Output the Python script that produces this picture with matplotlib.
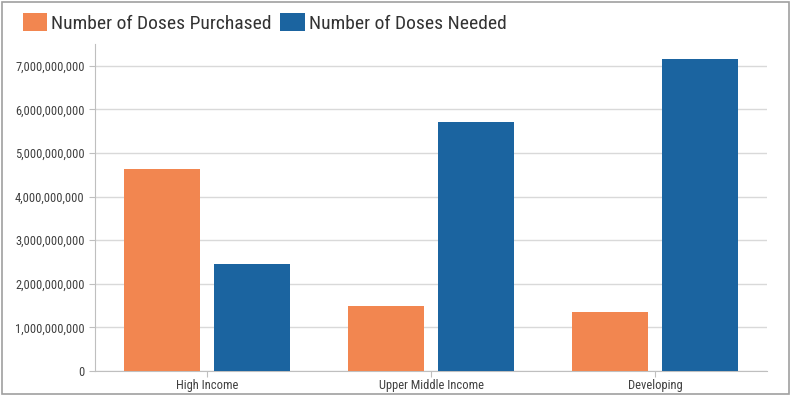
import matplotlib.pyplot as plt
import matplotlib.ticker as mticker
from matplotlib.patches import Rectangle
import numpy as np
from matplotlib import font_manager

categories = ['High Income', 'Upper Middle Income', 'Developing']
purchased = [4.64e9, 1.49e9, 1.35e9]
needed = [2.46e9, 5.71e9, 7.16e9]
series_names = ['Number of Doses Purchased', 'Number of Doses Needed']
yticks = [0, 1e9, 2e9, 3e9, 4e9, 5e9, 6e9, 7e9]

# pick a condensed font if one is there
names = {f.name for f in font_manager.fontManager.ttflist}
fam = 'Open Sans'
for cand in ['Roboto Condensed', 'Open Sans Condensed', 'Asap Condensed',
             'Archivo Narrow', 'Liberation Sans Narrow']:
    if cand in names:
        fam = cand
        break
plt.rcParams['font.family'] = [fam, 'DejaVu Sans']

orange = '#F28650'
blue = '#1B64A0'

fig = plt.figure(figsize=(7.91, 3.96), dpi=100)
ax = fig.add_axes([0.120, 0.063, 0.850, 0.826])

x = np.arange(len(categories))
w = 0.34
ax.bar(x - 0.2, purchased, w, color=orange, label=series_names[0], zorder=3)
ax.bar(x + 0.2, needed, w, color=blue, label=series_names[1], zorder=3)

ax.set_xlim(-0.5, 2.5)
ax.set_ylim(0, 7.5e9)
ax.set_yticks(yticks)
ax.yaxis.set_major_formatter(mticker.FuncFormatter(lambda v, p: f'{int(v):,}'))
ax.set_xticks(x)
ax.set_xticklabels(categories)
ax.grid(axis='y', color='#d9d9d9', linewidth=1, zorder=0)
ax.tick_params(axis='both', colors='#bfbfbf', labelcolor='#404040', labelsize=9, length=4, width=0.8)
ax.tick_params(axis='x', pad=2)
for s in ['top', 'right']:
    ax.spines[s].set_visible(False)
for s in ['left', 'bottom']:
    ax.spines[s].set_color('#bfbfbf')

leg = fig.legend(loc='upper left', bbox_to_anchor=(0.007, 1.012), ncol=2, frameon=False,
                 fontsize=14, handlelength=1.25, handleheight=1.1, handletextpad=0.2,
                 columnspacing=0.45, labelcolor='#333333')

fig.patches.append(Rectangle((0.003, 0.005), 0.994, 0.99, transform=fig.transFigure,
                             fill=False, edgecolor='#a0a0a0', linewidth=1.2))

fig.savefig('out.png', dpi=100)
